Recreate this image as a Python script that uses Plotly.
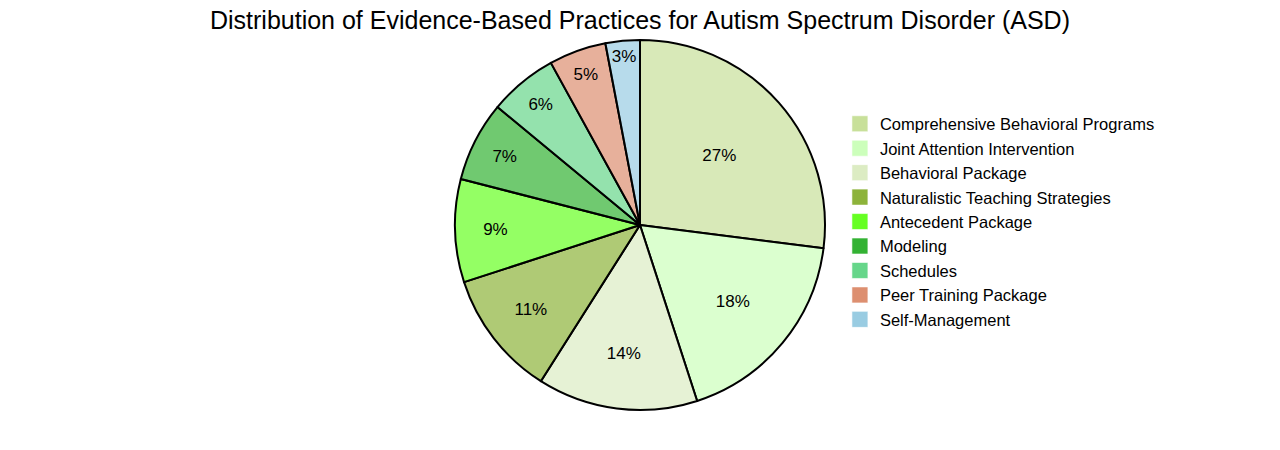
import plotly.graph_objects as go

categories = ["Comprehensive Behavioral Programs", "Joint Attention Intervention", "Behavioral Package",
              "Naturalistic Teaching Strategies", "Antecedent Package", "Modeling", "Schedules",
              "Peer Training Package", "Self-Management"]
values = [27, 18, 14, 11, 9, 7, 6, 5, 3]
colors = ["#c8e09a", "#ccffbb", "#dcecc3", "#8db33a", "#66ff22", "#33b233", "#66d68a", "#dd8f70", "#99cce2"]


def rgba(h, a=0.7):
    h = h.lstrip("#")
    r, g, b = int(h[0:2], 16), int(h[2:4], 16), int(h[4:6], 16)
    return f"rgba({r},{g},{b},{a})"


FONT = "Liberation Sans, Arial, sans-serif"

fig = go.Figure()
fig.add_trace(go.Pie(
    labels=categories, values=values, sort=False, direction="clockwise", rotation=0,
    marker=dict(colors=[rgba(c) for c in colors], line=dict(color="black", width=2)),
    textinfo="percent", textposition="inside", insidetextorientation="horizontal",
    textfont=dict(color="black", size=17, family=FONT),
    showlegend=False, hoverinfo="label+percent",
))
for cat, col in zip(categories, colors):
    fig.add_trace(go.Scatter(
        x=[None], y=[None], mode="markers", name=cat,
        marker=dict(symbol="square", size=18, color=col, line=dict(width=1, color="rgba(255,255,255,0.6)")),
        showlegend=True,
    ))

fig.update_layout(
    width=1280, height=450,
    title=dict(text="Distribution of Evidence-Based Practices for Autism Spectrum Disorder (ASD)",
               x=632 / 1280, xanchor="center", y=1 - 3 / 450, yanchor="top",
               font=dict(size=25, color="black", family=FONT)),
    margin=dict(l=72, r=88, t=32, b=48),
    showlegend=True,
    legend=dict(x=0.6785, y=0.508, xanchor="left", yanchor="middle", tracegroupgap=0,
                font=dict(size=16.5, color="black", family=FONT)),
    xaxis=dict(visible=False), yaxis=dict(visible=False),
    paper_bgcolor="white", plot_bgcolor="white",
)
fig.write_html("out.html")
